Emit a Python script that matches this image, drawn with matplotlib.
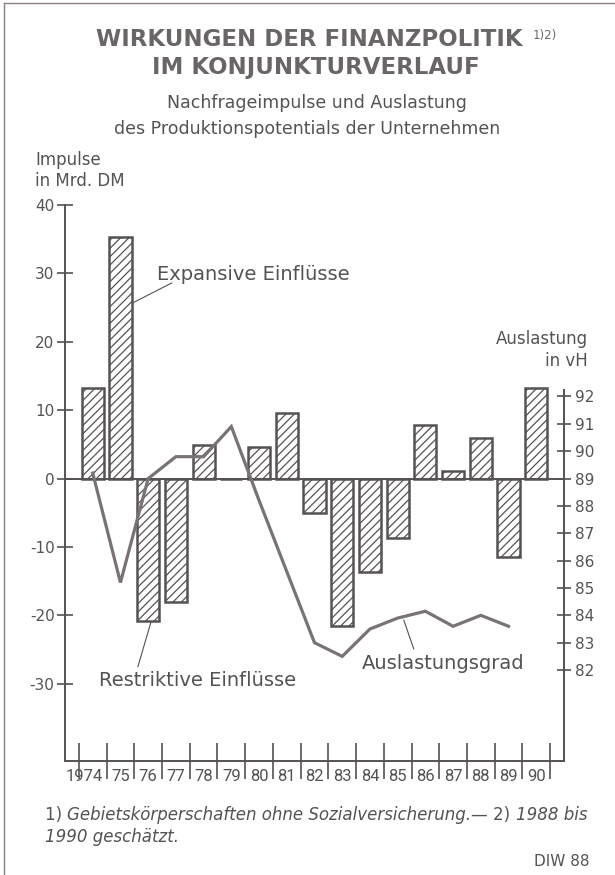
import matplotlib
matplotlib.use("Agg")
import matplotlib.pyplot as plt
import matplotlib.transforms as mtransforms
import numpy as np

# Nachfrageimpulse (Mrd. DM) und Auslastungsgrad (vH)
jahre = ["1974", "75", "76", "77", "78", "79", "80", "81", "82",
         "83", "84", "85", "86", "87", "88", "89", "90"]
impulse = [13.3, 35.3, -20.9, -18.1, 4.9, 0.0, 4.6, 9.6, -5.1,
           -21.6, -13.6, -8.7, 7.8, 1.1, 5.9, -11.4, 13.3]
auslastung = [89.2, 85.2, 89.0, 89.8, 89.8, 90.9, 88.2, 85.6, 83.0,
              82.5, 83.5, 83.9, 84.15, 83.6, 84.0, 83.6]

links_ticks = [-30, -20, -10, 0, 10, 20, 30, 40]
rechts_ticks = list(range(82, 93))

GRAU = "#575252"
TEXT = "#555252"

plt.rcParams["font.family"] = ["DejaVu Sans"]
plt.rcParams["hatch.linewidth"] = 0.9
plt.rcParams["hatch.color"] = "#4e4949"

W, H = 615, 875
fig = plt.figure(figsize=(W / 100, H / 100), dpi=100)
fig.patch.set_facecolor("white")

def fx(px):
    return px / W

def fy(py):
    return 1 - py / H

# Rand der Vorlage (links und oben)
fig.add_artist(plt.Line2D([fx(4), fx(4)], [0, fy(3)], color="#8a7f80", lw=1.0))
fig.add_artist(plt.Line2D([fx(4), 1], [fy(3), fy(3)], color="#8a7f80", lw=1.0))

ax = fig.add_axes([fx(65), fy(761), fx(564) - fx(65), fy(205) - fy(761)])
x = np.arange(len(jahre))

ax.bar(x, impulse, width=0.8, color="white", edgecolor=GRAU, linewidth=1.8,
       hatch="////", zorder=2)
ax.axhline(0, color=GRAU, lw=1.4, zorder=3)

ymin, ymax = -41.3, 40
ax.set_ylim(ymin, ymax)
ax.set_xlim(-1.0, 17.0)

for s in ["top", "right"]:
    ax.spines[s].set_visible(False)
for s in ["left", "bottom"]:
    ax.spines[s].set_color(GRAU)
    ax.spines[s].set_linewidth(1.4)

ax.set_yticks(links_ticks)
ax.set_yticklabels([str(v) for v in links_ticks])
ax.tick_params(axis="y", direction="inout", length=11, width=1.2, color=GRAU,
               labelsize=11, labelcolor=TEXT, pad=2)

# Jahresgrenzen als Striche, Jahreszahlen dazwischen
ax.set_xticks(np.arange(len(jahre) + 1) - 0.5)
ax.set_xticklabels([])
ax.tick_params(axis="x", which="major", direction="inout", length=26, width=1.2, color=GRAU)
trans = mtransforms.blended_transform_factory(ax.transData, ax.transAxes)
for i, j in enumerate(jahre):
    if i == 0:
        ax.text(i + 0.37, -0.027, j, transform=trans, ha="right", va="center",
                family=["Roboto", "DejaVu Sans"], fontsize=12, color=TEXT)
    else:
        ax.text(i, -0.027, j, transform=trans, ha="center", va="center",
                family=["Roboto", "DejaVu Sans"], fontsize=12, color=TEXT)

# rechte Achse: 1 vH = 4 Mrd. DM, 89 vH auf Nulllinie
ax2 = ax.twinx()
ax2.set_ylim(89 + ymin / 4, 89 + ymax / 4)
ax2.plot(x[:len(auslastung)], auslastung, color="#7a7373", lw=2.3,
         solid_joinstyle="miter", zorder=4)
for s in ["top", "left", "bottom"]:
    ax2.spines[s].set_visible(False)
ax2.spines["right"].set_bounds(89 + ymin / 4, 92.25)
ax2.spines["right"].set_color(GRAU)
ax2.spines["right"].set_linewidth(1.4)
ax2.set_yticks(rechts_ticks)
ax2.set_yticklabels([str(v) for v in rechts_ticks])
ax2.tick_params(axis="y", direction="inout", length=10, width=1.2, color=GRAU,
                labelsize=11, labelcolor=TEXT, pad=3)

# Beschriftungen im Diagramm
ax.text(2.31, 29.8, "Expansive Einflüsse", fontsize=14, color=TEXT, va="center", zorder=5)
ax.plot([1.45, 2.85], [25.7, 28.6], color=GRAU, lw=0.8, zorder=5)
ax.text(0.22, -29.5, "Restriktive Einflüsse", fontsize=14, color=TEXT, va="center", zorder=5)
ax.plot([2.10, 1.63], [-21.0, -27.5], color=GRAU, lw=0.8, zorder=5)
ax.text(9.69, -27.0, "Auslastungsgrad", fontsize=14, color=TEXT, va="center", zorder=5)
ax.plot([11.22, 11.58], [-20.7, -24.9], color=GRAU, lw=0.8, zorder=5)

# Titel
TITEL = "#6a6666"
fig.text(fx(309), fy(40), "WIRKUNGEN DER FINANZPOLITIK", ha="center", va="center",
         fontsize=16.5, fontweight="bold", color=TITEL)
fig.text(fx(533), fy(36), "1)2)", ha="left", va="center", fontsize=8.5, color=TITEL)
fig.text(fx(316), fy(67.5), "IM KONJUNKTURVERLAUF", ha="center", va="center",
         fontsize=16.5, fontweight="bold", color=TITEL)
fig.text(fx(317), fy(103), "Nachfrageimpulse und Auslastung", ha="center", va="center",
         fontsize=12.5, color=TEXT)
fig.text(fx(307), fy(129), "des Produktionspotentials der Unternehmen", ha="center",
         va="center", fontsize=12.5, color=TEXT)

fig.text(fx(35), fy(160), "Impulse", ha="left", va="center", fontsize=12, color=TEXT)
fig.text(fx(35), fy(181), "in Mrd. DM", ha="left", va="center", fontsize=12, color=TEXT)
fig.text(fx(588), fy(339), "Auslastung", ha="right", va="center", fontsize=12, color=TEXT)
fig.text(fx(588), fy(361), "in vH", ha="right", va="center", fontsize=12, color=TEXT)

# Fussnote: Teile nacheinander setzen
renderer = fig.canvas.get_renderer()
teile = [("1) ", "normal"), ("Gebietskörperschaften ohne Sozialversicherung.— ", "italic"),
         ("2) ", "normal"), ("1988 bis", "italic")]
xpos = 45
for t, st in teile:
    txt = fig.text(fx(xpos), fy(815), t, ha="left", va="center", fontsize=12,
                   color=TEXT, style=st)
    xpos += txt.get_window_extent(renderer).width
fig.text(fx(45), fy(837), "1990 geschätzt.", ha="left", va="center", fontsize=12,
         color=TEXT, style="italic")
fig.text(fx(590), fy(861), "DIW 88", ha="right", va="center", fontsize=11, color=TEXT)

fig.savefig("out.png", dpi=100, facecolor="white")
